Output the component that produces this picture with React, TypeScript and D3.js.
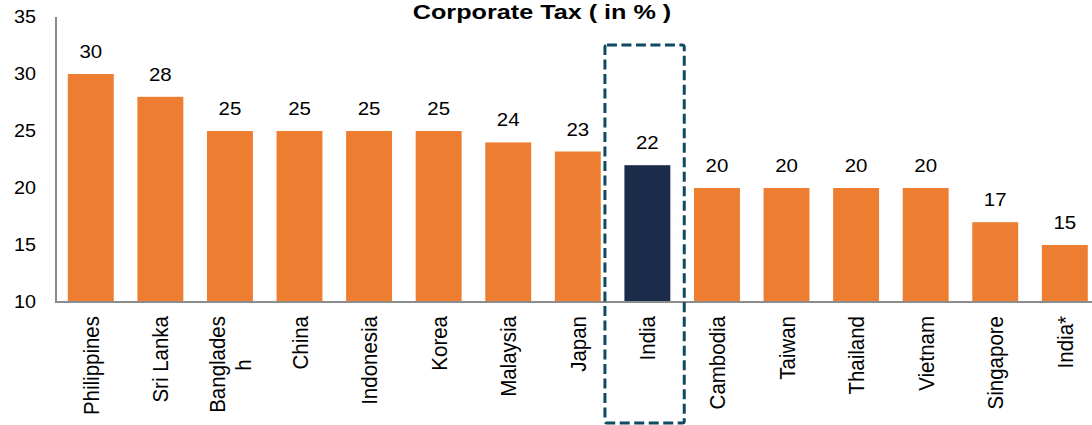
import React from "react";
import * as d3 from "d3";

const categories = [
  "Philippines", "Sri Lanka", "Bangladesh", "China", "Indonesia", "Korea", "Malaysia",
  "Japan", "India", "Cambodia", "Taiwan", "Thailand", "Vietnam", "Singapore", "India*",
];
const tickLabels = [
  "Philippines", "Sri Lanka", "Banglades\nh", "China", "Indonesia", "Korea", "Malaysia",
  "Japan", "India", "Cambodia", "Taiwan", "Thailand", "Vietnam", "Singapore", "India*",
];
const values = [30, 28, 25, 25, 25, 25, 24, 23.2, 22, 20, 20, 20, 20, 17, 15];
const valueLabels = ["30", "28", "25", "25", "25", "25", "24", "23", "22", "20", "20", "20", "20", "17", "15"];
const highlighted = ["India"];
const yTicks = [10, 15, 20, 25, 30, 35];
const title = "Corporate Tax ( in % )";

const W = 1092;
const H = 425;
const FONT = "'Liberation Sans', Arial, sans-serif";
const ORANGE = "#ED7D31";
const NAVY = "#1B2C4B";
const BOX = "#0E4A62";
const AXIS = "#8C8C8C";

export default function App() {
  const x = d3.scaleBand<string>().domain(categories).range([56, 1099.6]).paddingInner(0.34).paddingOuter(0.17);
  const y = d3.scaleLinear().domain([10, 35]).range([302, 17]);
  const step = x.step();
  const bw = x.bandwidth();
  const sx = 1.12;

  const hiX = x("India")!;
  const boxX0 = hiX - 0.28 * step;
  const boxX1 = hiX + bw + 0.2 * step;

  return (
    <svg width={W} height={H} style={{ position: "absolute", left: 0, top: 0, background: "#fff" }} fontFamily={FONT}>
      <text transform={`translate(542,18.5) scale(1.2,1)`} textAnchor="middle" fontSize={21} fontWeight="bold" fill="#000">
        {title}
      </text>

      {yTicks.map((t) => (
        <text key={t} transform={`translate(36,${y(t)}) scale(1.1,1)`} textAnchor="end" dy="0.36em" fontSize={18} fill="#000">
          {t}
        </text>
      ))}

      {categories.map((c, i) => (
        <rect
          key={c}
          x={x(c)}
          y={y(values[i])}
          width={bw}
          height={y(10) - y(values[i])}
          fill={highlighted.includes(c) ? NAVY : ORANGE}
        />
      ))}

      {categories.map((c, i) => (
        <text
          key={c + "v"}
          transform={`translate(${x(c)! + bw / 2},${y(values[i]) - 16}) scale(1.1,1)`}
          textAnchor="middle"
          fontSize={18.6}
          fill="#000"
        >
          {valueLabels[i]}
        </text>
      ))}

      <line x1={56} x2={56} y1={17} y2={y(10)} stroke={AXIS} strokeWidth={2} />
      <line x1={55} x2={W} y1={y(10)} y2={y(10)} stroke={AXIS} strokeWidth={2} />

      {categories.map((c, i) => {
        const lines = tickLabels[i].split("\n");
        const cx = x(c)! + bw / 2;
        const lh = 23;
        return (
          <g key={c + "t"} transform={`translate(${cx},316) scale(1.1,1) rotate(-90)`}>
            {lines.map((ln, j) => {
              const off = (j - (lines.length - 1) / 2) * lh;
              const isFirst = j === 0;
              return (
                <text
                  key={j}
                  x={isFirst ? 0 : -49}
                  y={off}
                  dy="0.36em"
                  textAnchor={isFirst ? "end" : "middle"}
                  fontSize={20.5}
                  fill="#000"
                >
                  {ln}
                </text>
              );
            })}
          </g>
        );
      })}

      <rect
        x={boxX0}
        y={45}
        width={boxX1 - boxX0}
        height={H - 2 - 45}
        rx={2}
        fill="none"
        stroke={BOX}
        strokeWidth={3}
        strokeDasharray="10 4.5"
      />
    </svg>
  );
}
